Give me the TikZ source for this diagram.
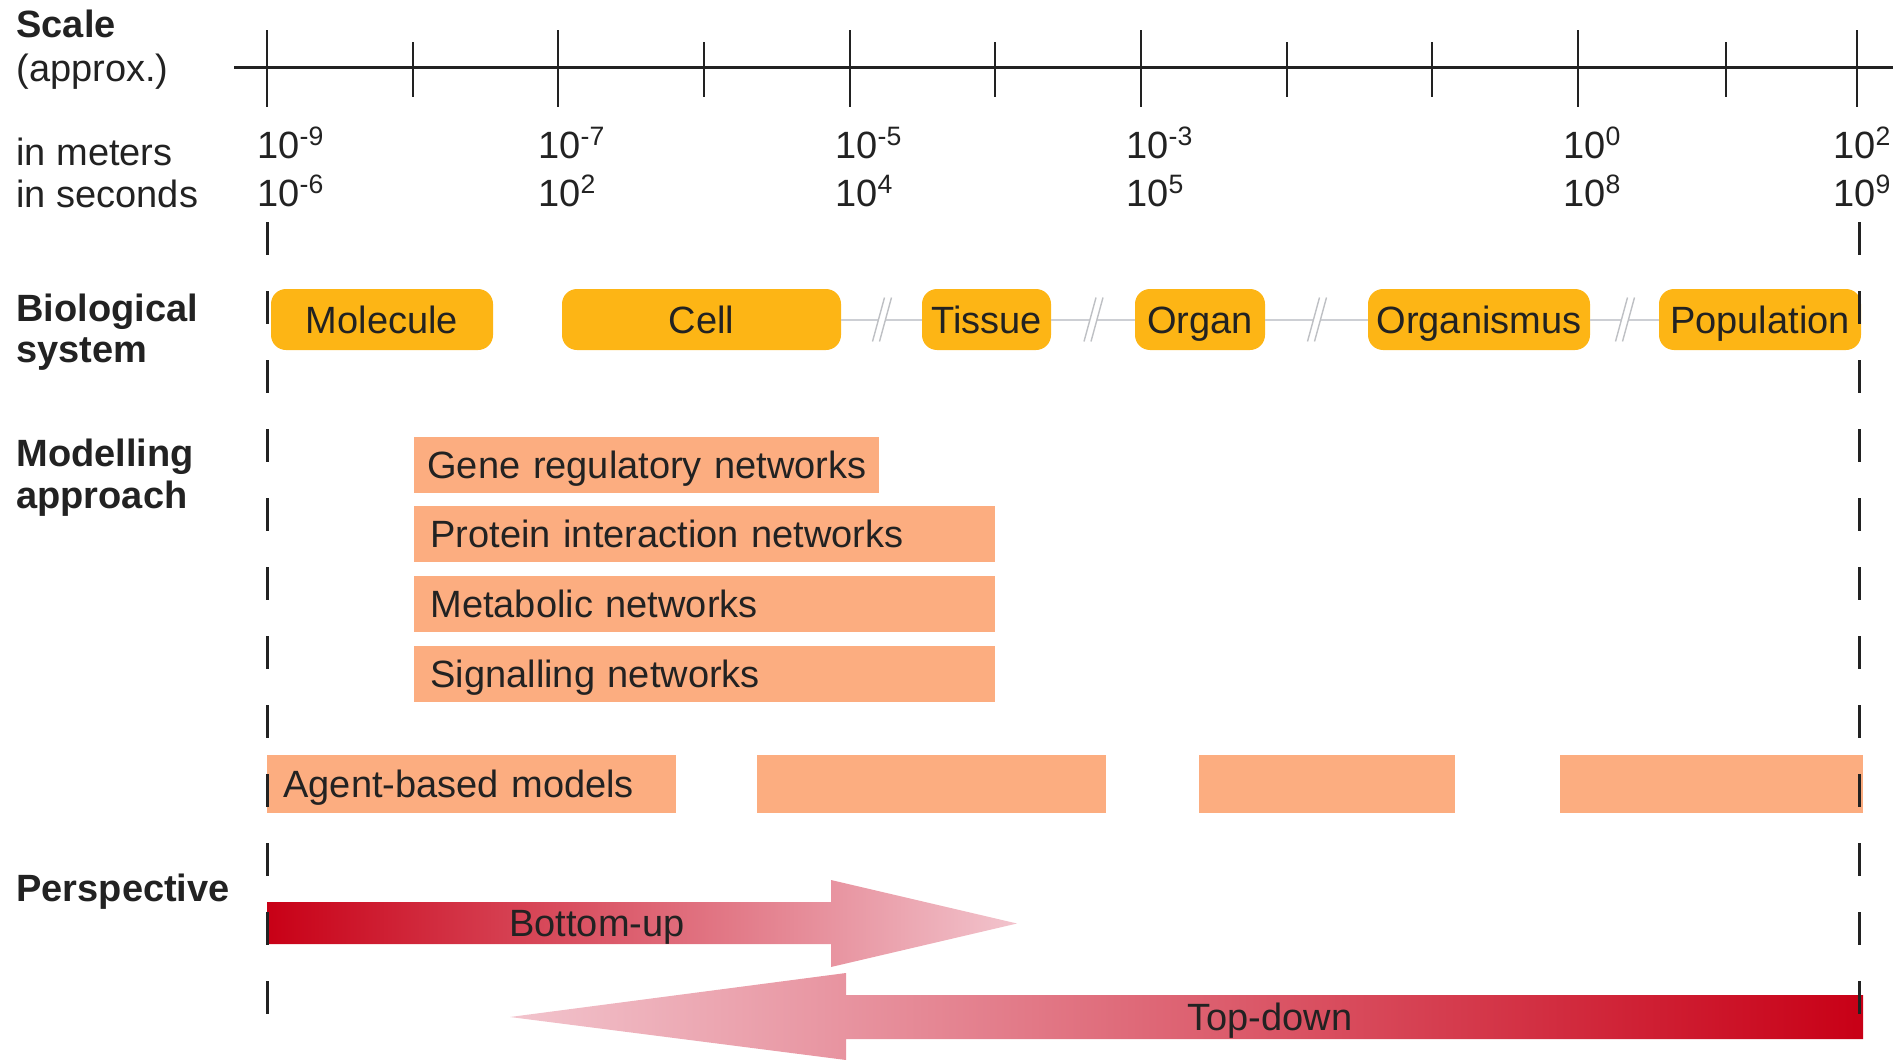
\documentclass[tikz,border=0pt]{standalone}
\usepackage{fontspec}
\setmainfont{Liberation Sans}
\usetikzlibrary{calc}
\definecolor{ink}{RGB}{34,34,34}
\definecolor{amber}{RGB}{253,181,21}
\definecolor{salmon}{RGB}{252,173,128}
\definecolor{wire}{RGB}{205,207,212}
\definecolor{slash}{RGB}{190,192,196}
\definecolor{deepred}{RGB}{200,0,22}
\definecolor{blush}{RGB}{242,196,205}
\newcommand{\tenp}[1]{10\textsuperscript{#1}}
\newcommand{\lbl}{\fontsize{19}{23}\selectfont}

\begin{document}
\begin{tikzpicture}[
  x=0.5pt, y=-0.5pt,
  lab/.style={anchor=base west, inner sep=0pt, text=ink, font=\lbl},
  hd/.style={lab, font=\lbl\bfseries},
  axis/.style={draw=ink, line width=1.5pt},
  tick/.style={draw=ink, line width=1.2pt},
  sys/.style={fill=amber, rounded corners=7.5pt, text=ink, font=\lbl,
              inner xsep=2pt, minimum height=30.5pt,
              text height=13.7pt, text depth=0pt},
  mod/.style={fill=salmon, anchor=west, text=ink, font=\lbl, align=left,
              inner xsep=8pt, inner ysep=0pt, minimum height=28pt,
              text height=13.7pt, text depth=0pt},
  link/.style={draw=wire, line width=1pt},
  brk/.style={draw=slash, line width=0.7pt},
  guide/.style={draw=ink, line width=1.5pt, dash pattern=on 16.5pt off 18pt},
  persp/.style={text=ink, font=\lbl, text height=13.7pt, text depth=0pt}]

  \useasboundingbox (0,0) rectangle (1903,1060);

  % --- scale
  \node[hd]  (scl)  at (16,37)  {Scale};
  \node[lab] (apx)  at (16,82)  {(approx.)};
  \node[lab] (met)  at (16,165) {in meters};
  \node[lab] (sec)  at (16,207) {in seconds};
  \draw[axis] (234,67) -- (1893,67);
  \foreach \x in {267,558,850,1141,1578,1857} \draw[tick] (\x,30) -- (\x,107);
  \foreach \x in {413,704,995,1287,1432,1726} \draw[tick] (\x,42) -- (\x,97);
  \foreach \x/\m/\s in {257/-9/-6, 538/-7/2, 835/-5/4, 1126/-3/5, 1563/0/8, 1833/2/9} {
    \node[lab] (m\x) at (\x,158) {\tenp{\m}};
    \node[lab] (s\x) at (\x,206) {\tenp{\s}};
  }

  % --- biological system
  \node[hd] (bio)  at (16,321) {Biological};
  \node[hd] (bio2) at (16,362) {system};
  \node[sys, minimum width=111pt]   (mol)  at ( 382,319.5) {Molecule};
  \node[sys, minimum width=139.5pt] (cell) at ( 701.5,319.5) {Cell};
  \node[sys, minimum width=64.5pt]  (tis)  at ( 986.5,319.5) {Tissue};
  \node[sys, minimum width=65pt]    (org)  at (1200,319.5) {Organ};
  \node[sys, minimum width=111pt]   (orgm) at (1479,319.5) {Organismus};
  \node[sys, minimum width=101pt]   (pop)  at (1760,319.5) {Population};
  \foreach \a/\b in {cell/tis, tis/org, org/orgm, orgm/pop} {
    \draw[link] (\a) -- (\b);
    \coordinate (gap) at ($(\a.east)!0.5!(\b.west)$);
    \fill[white] ($(gap)+(-9,22)$) -- ++(12,-44) -- ++(7,0) -- ++(-12,44) -- cycle;
    \draw[brk] ($(gap)+(-9,22)$) -- ++(12,-44) ($(gap)+(-2,22)$) -- ++(12,-44);
  }

  % --- modelling approach
  \node[hd] (mdl)  at (16,466) {Modelling};
  \node[hd] (mdl2) at (16,508) {approach};
  \node[mod, inner xsep=6.5pt, text width=219.5pt] (grn) at (414,465) {\mbox{Gene regulatory networks}};
  \node[mod, text width=274.5pt] (pin) at (414,534)   {Protein interaction networks};
  \node[mod, text width=274.5pt] (mbn) at (414,603.5) {Metabolic networks};
  \node[mod, text width=274.5pt] (sgn) at (414,674)   {Signalling networks};
  \node[mod, text width=188.5pt, minimum height=29pt] (abm) at (267,784) {Agent-based models};
  \node[mod, minimum width=174.5pt, minimum height=29pt] (abm2) at ( 757,784) {};
  \node[mod, minimum width=128pt,   minimum height=29pt] (abm3) at (1199,784) {};
  \node[mod, minimum width=151.5pt, minimum height=29pt] (abm4) at (1560,784) {};

  % --- perspective
  \node[hd] (per) at (16,901) {Perspective};
  \shade[left color=deepred, right color=blush]
    (267,902) -- (831,902) -- (831,880) -- (1017,923.5) -- (831,967) -- (831,944) -- (267,944) -- cycle;
  \shade[left color=blush, right color=deepred]
    (1863,995) -- (846,995) -- (846,973) -- (510,1017) -- (846,1060) -- (846,1039) -- (1863,1039) -- cycle;
  \node[persp] (bu) at (597,923)  {Bottom-up};
  \node[persp] (td) at (1270,1017) {Top-down};

  % the two limits of the range, over everything else
  \draw[guide] (267,222) -- (267,1014);
  \draw[guide] (1859,222) -- (1859,1014);
\end{tikzpicture}
\end{document}
